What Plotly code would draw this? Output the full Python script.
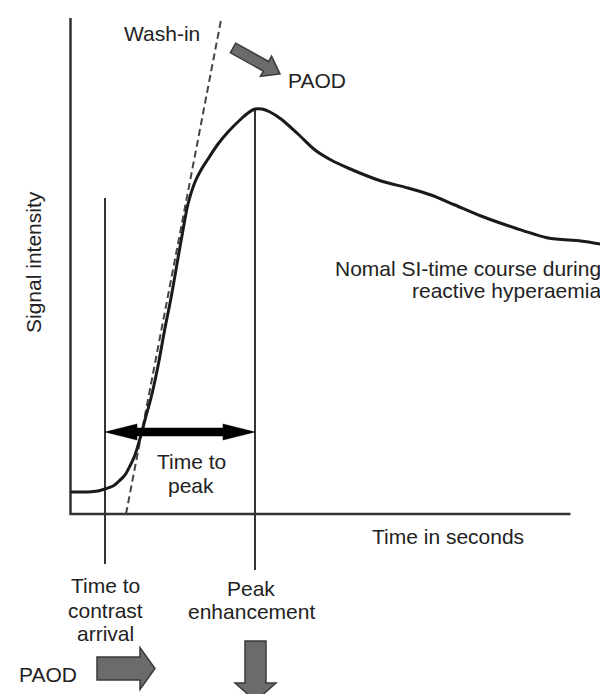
import math
import plotly.graph_objects as go

# ---- data (time in s, signal intensity in arbitrary units) ----
time_s = [0, 3.5, 5.5, 6.9, 8.5, 9.5, 10.9, 11.9, 12.9, 14.1, 15.1, 16.1, 17.5,
          18.9, 20.1, 21.5, 22.5, 23.5, 24.9, 26.1, 27.5, 29.5, 31.5, 34.1, 35.5,
          36.9, 38.3, 39.9, 42.1, 45.5, 48.9, 52.1, 55.5, 62.1, 67.5, 72.1, 76.9,
          82.1, 88.9, 95.5, 102.1, 107.1]
signal = [4.4, 4.4, 4.6, 5.0, 5.6, 6.4, 7.8, 9.6, 11.8, 15.8, 19.6, 23.2, 29.6,
          37.2, 43.2, 51.2, 56.8, 62.0, 66.4, 68.8, 71.0, 74.0, 76.4, 79.0, 80.2,
          81.0, 81.0, 80.4, 79.0, 76.0, 72.8, 70.8, 69.2, 66.6, 65.2, 63.8, 61.8,
          59.6, 57.2, 55.2, 54.6, 53.8]

washin_t = [11.1, 30.1]
washin_si = [0, 98.8]

arrival_t = 6.9
peak_t = 36.9
peak_si = 81.0
arrival_top = 63.2
arrival_bottom = -10.0
peak_bottom = -11.2
ttp_si = 16.4

axis_t_max = 100
axis_si_max = 99.2

X_RANGE = [-12.5, 109.1]
Y_RANGE = [-37.6, 101.2]

INK = "#1a1a1a"
LINE = "#333333"
TXT = "#222222"
ARROW_FILL = "#6b6b6b"
ARROW_EDGE = "#3a3a3a"
FONT = dict(family="Liberation Sans, Arial, sans-serif", size=21, color=TXT)

fig = go.Figure()

def seg(xs, ys, width, color, dash=None):
    fig.add_trace(go.Scatter(x=xs, y=ys, mode="lines", hoverinfo="skip",
                             line=dict(width=width, color=color, dash=dash),
                             showlegend=False))

# axes
seg([0, 0, axis_t_max], [axis_si_max, 0, 0], 2.5, LINE)
# marker lines
seg([arrival_t, arrival_t], [arrival_top, arrival_bottom], 2, LINE)
seg([peak_t, peak_t], [peak_si, peak_bottom], 2, LINE)
# wash-in tangent
seg(washin_t, washin_si, 2, "#444444", dash="7px,4px")
# SI curve
fig.add_trace(go.Scatter(x=time_s, y=signal, mode="lines", hoverinfo="skip",
                         line=dict(width=3, color=INK, shape="spline", smoothing=0.8),
                         showlegend=False))

def arrow_path(x0, y0, x1, y1, shaft_hw, head_hw, head_len, double=False):
    dx, dy = x1 - x0, y1 - y0
    L = math.hypot(dx, dy)
    ux, uy = dx / L, dy / L
    nx, ny = -uy, ux
    def p(s, n):
        return (x0 + ux * s + nx * n, y0 + uy * s + ny * n)
    if double:
        pts = [p(0, 0), p(head_len, head_hw), p(head_len, shaft_hw),
               p(L - head_len, shaft_hw), p(L - head_len, head_hw), p(L, 0),
               p(L - head_len, -head_hw), p(L - head_len, -shaft_hw),
               p(head_len, -shaft_hw), p(head_len, -head_hw)]
    else:
        pts = [p(0, shaft_hw), p(L - head_len, shaft_hw), p(L - head_len, head_hw),
               p(L, 0), p(L - head_len, -head_hw), p(L - head_len, -shaft_hw),
               p(0, -shaft_hw)]
    return "M " + " L ".join(f"{a:.3f},{b:.3f}" for a, b in pts) + " Z"

# time-to-peak double arrow
fig.add_shape(type="path", path=arrow_path(arrival_t, ttp_si, peak_t, ttp_si,
                                           0.8, 1.6, 6.4, double=True),
              fillcolor="#000000", line=dict(width=0.5, color="#000000"))
# grey PAOD arrows
fig.add_shape(type="path", path=arrow_path(32.5, 93.2, 41.9, 88.0, 1.1, 2.3, 3.2),
              fillcolor=ARROW_FILL, line=dict(width=1.5, color=ARROW_EDGE))
fig.add_shape(type="path", path=arrow_path(5.3, -30.9, 16.9, -30.9, 2.3, 4.2, 3.0),
              fillcolor=ARROW_FILL, line=dict(width=1.5, color=ARROW_EDGE))
fig.add_shape(type="path", path=arrow_path(37.0, -25.4, 37.0, -37.4, 2.1, 4.1, 3.6),
              fillcolor=ARROW_FILL, line=dict(width=1.5, color=ARROW_EDGE))

labels = [
    ("Wash-in", 18.3, 96.2, "center", 0),
    ("PAOD", 43.1, 86.8, "left", 0),
    ("Nomal SI-time course during", 106.5, 49.2, "right", 0),
    ("reactive hyperaemia", 106.5, 44.8, "right", 0),
    ("Time to", 24.1, 10.6, "center", 0),
    ("peak", 24.1, 5.8, "center", 0),
    ("Time in seconds", 75.4, -4.4, "center", 0),
    ("Time to", 6.9, -14.2, "center", 0),
    ("contrast", 6.9, -19.2, "center", 0),
    ("arrival", 6.9, -23.8, "center", 0),
    ("Peak", 36.1, -14.8, "center", 0),
    ("enhancement", 36.1, -19.4, "center", 0),
    ("PAOD", -4.5, -32.0, "center", 0),
    ("Signal intensity", -7.5, 50.4, "center", -90),
]
for text, x, y, anchor, ang in labels:
    fig.add_annotation(x=x, y=y, text=text, showarrow=False, xanchor=anchor,
                       yanchor="middle", textangle=ang, font=FONT)

fig.update_layout(
    width=608, height=694,
    margin=dict(l=0, r=0, t=0, b=0),
    paper_bgcolor="white", plot_bgcolor="white",
    xaxis=dict(range=X_RANGE, visible=False, fixedrange=True),
    yaxis=dict(range=Y_RANGE, visible=False, fixedrange=True),
    showlegend=False,
)

fig.write_html("out.html")
